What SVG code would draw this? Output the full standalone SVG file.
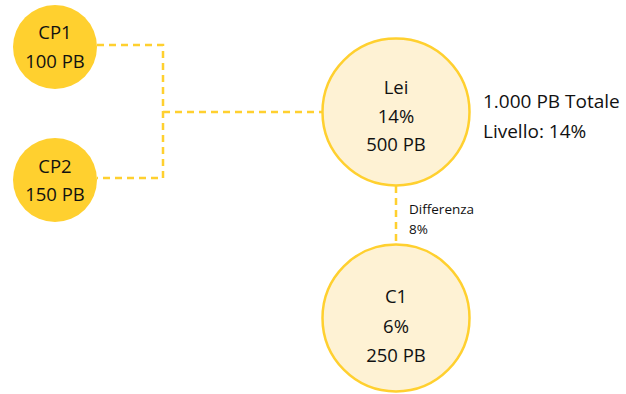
<svg xmlns="http://www.w3.org/2000/svg" width="626" height="394" viewBox="0 0 626 394">
<style>
text{font-family:"Open Sans","Noto Sans",sans-serif;fill:#111;text-anchor:middle}
.big{font-size:18.5px}
.small{font-size:13.5px;text-anchor:start}
.side{font-size:19px;text-anchor:start}
.solid{fill:#FFD02F}
.ring{fill:#FEF2D4;stroke:#FFD02F;stroke-width:2.5}
.dash{fill:none;stroke:#FFD02F;stroke-width:2.5;stroke-dasharray:7,5}
</style>
<rect width="626" height="394" fill="#fff"/>
<g id="connectors">
<path class="dash" d="M97,45 H163 V178 H97"/>
<path class="dash" d="M163,112 H322"/>
<path class="dash" d="M396,186 V245"/>
</g>
<g id="cp1">
<circle class="solid" cx="55" cy="47" r="42"/>
<text class="big" x="55" y="39">CP1</text>
<text class="big" x="55" y="68">100 PB</text>
</g>
<g id="cp2">
<circle class="solid" cx="55" cy="180" r="42"/>
<text class="big" x="55" y="173">CP2</text>
<text class="big" x="55" y="201">150 PB</text>
</g>
<g id="lei">
<circle class="ring" cx="396" cy="112" r="73.5"/>
<text class="big" x="396" y="94">Lei</text>
<text class="big" x="396" y="123">14%</text>
<text class="big" x="396" y="151">500 PB</text>
</g>
<g id="totale">
<text class="side" x="483" y="108">1.000 PB Totale</text>
<text class="side" x="483" y="138">Livello: 14%</text>
</g>
<g id="differenza">
<text class="small" x="409" y="214">Differenza</text>
<text class="small" x="409" y="234">8%</text>
</g>
<g id="c1">
<circle class="ring" cx="396" cy="318" r="73.5"/>
<text class="big" x="396" y="303">C1</text>
<text class="big" x="396" y="333">6%</text>
<text class="big" x="396" y="362">250 PB</text>
</g>
</svg>
